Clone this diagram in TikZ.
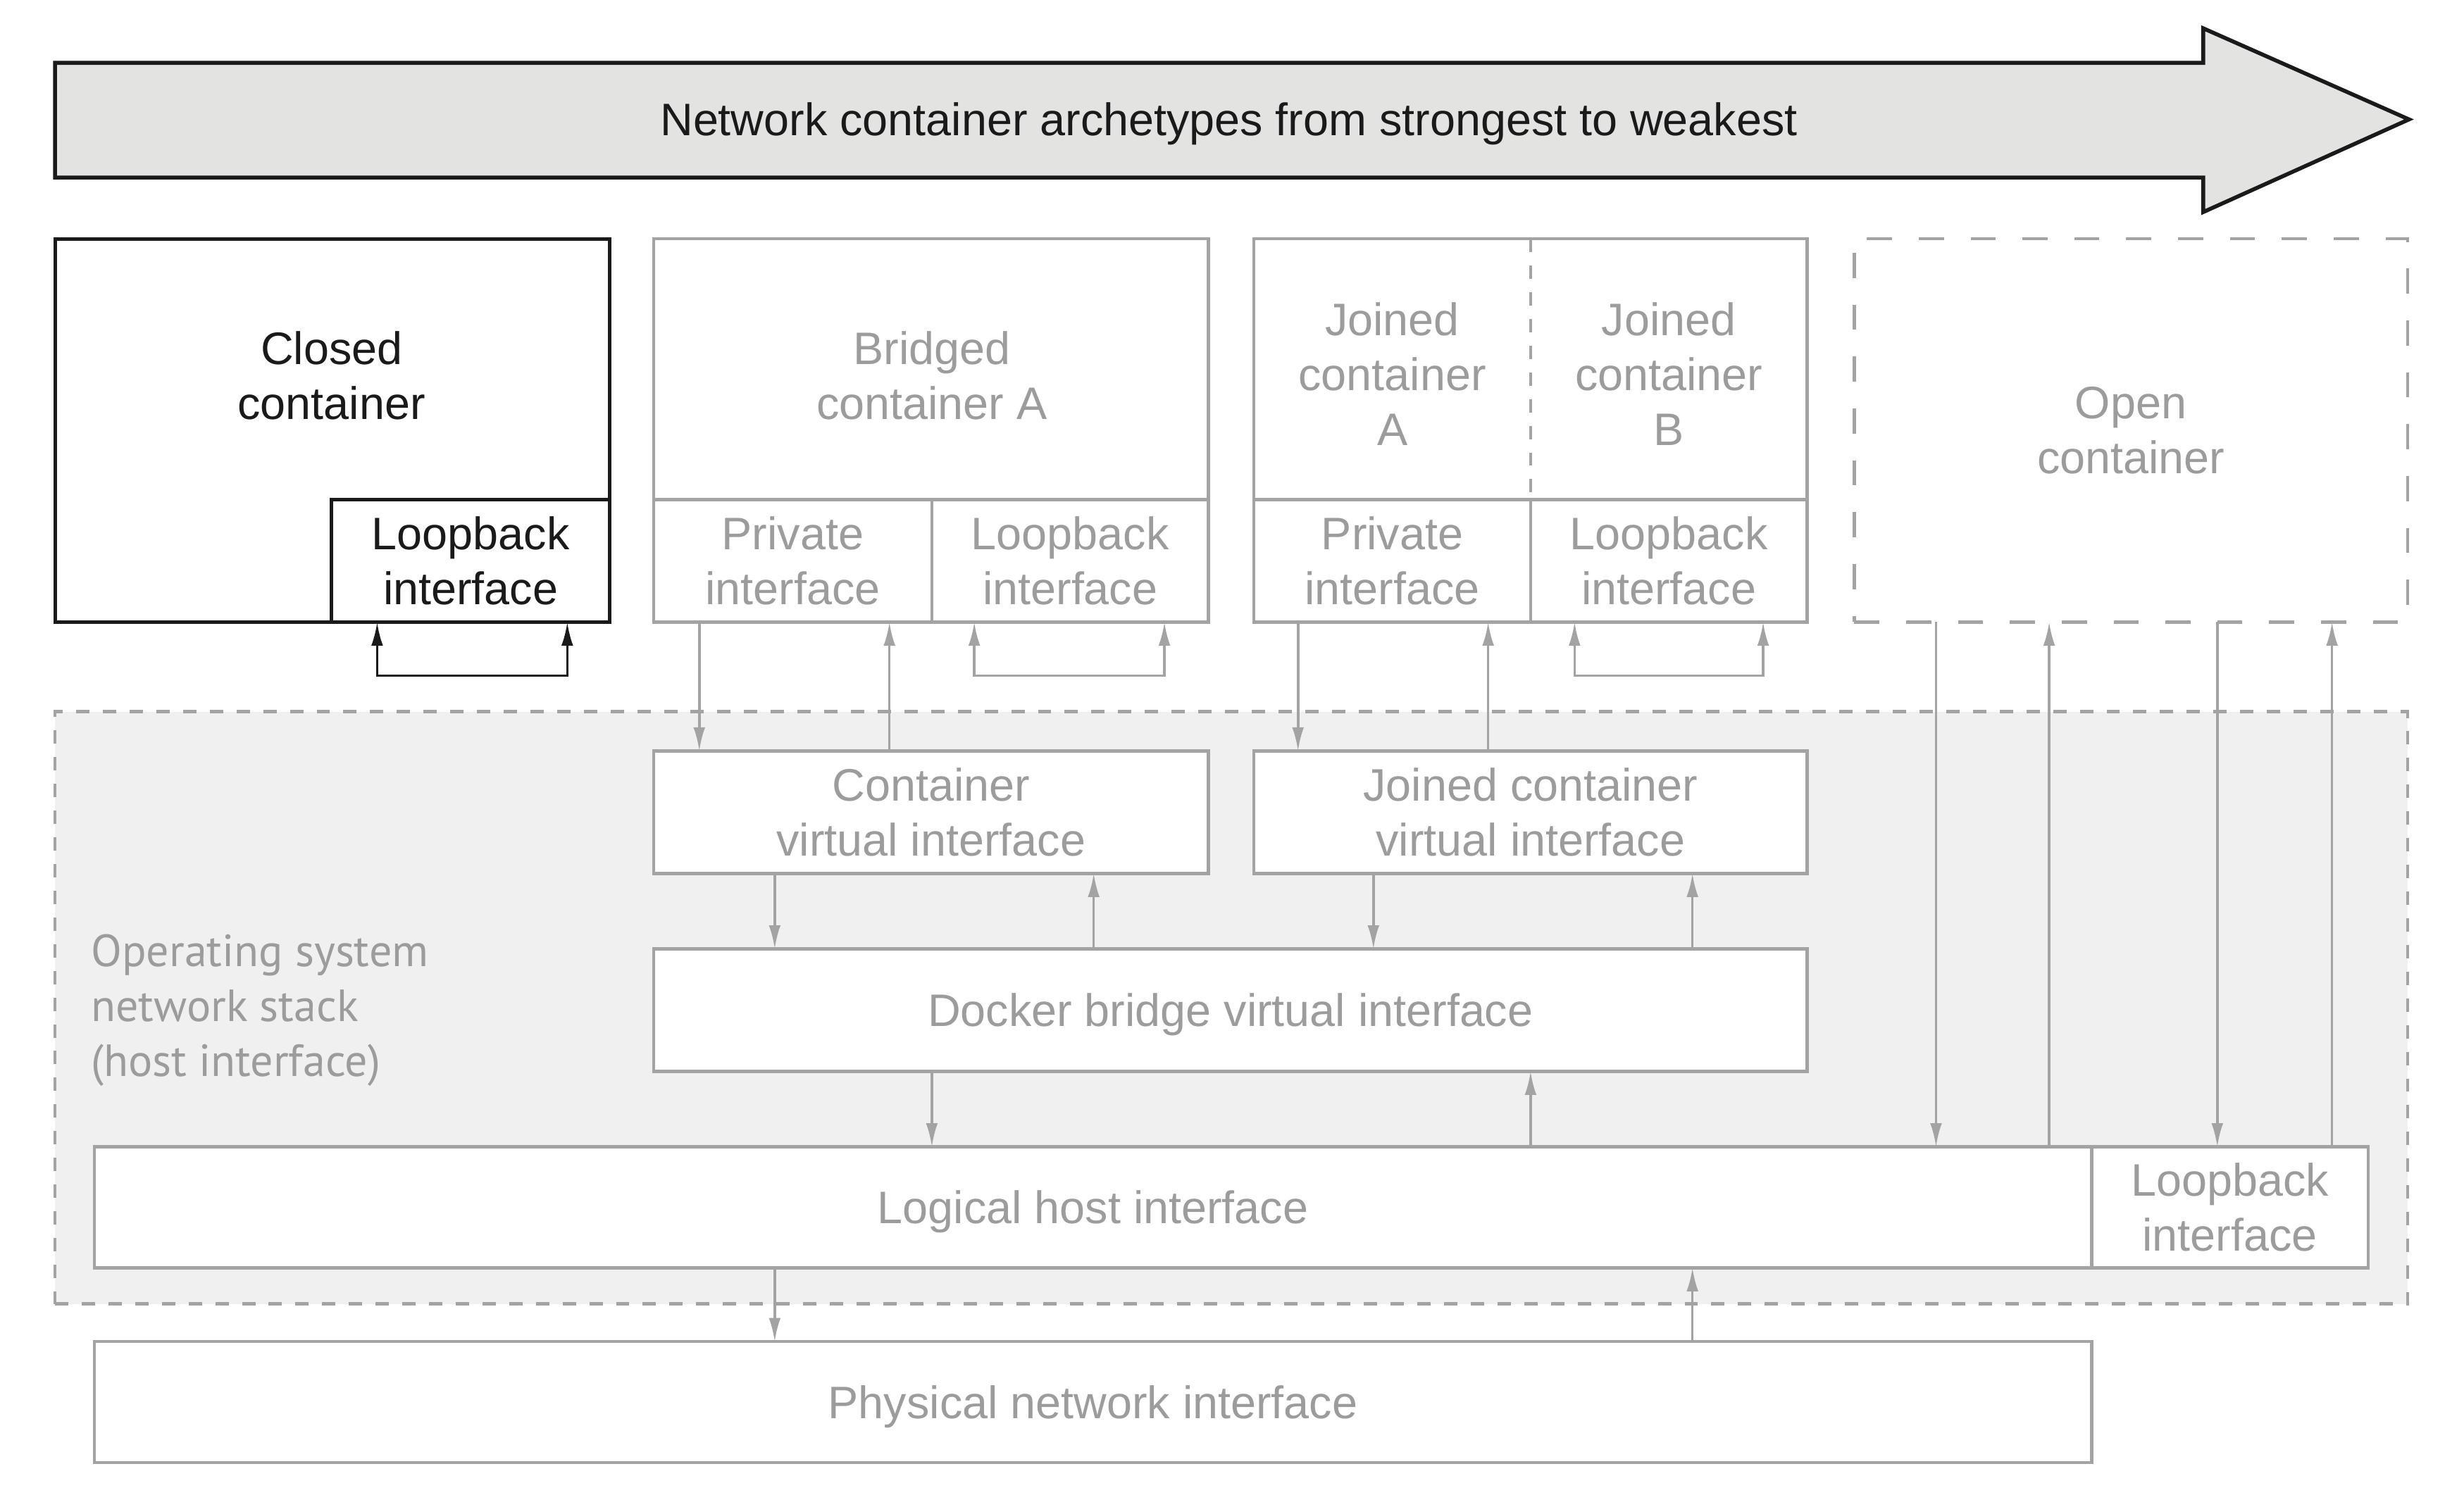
\documentclass[tikz,border=0pt]{standalone}
\usepackage{fontspec}
\setmainfont{Liberation Sans}
\newfontfamily\osfont{PT Sans}
\usetikzlibrary{arrows.meta}
\definecolor{lg}{HTML}{A3A3A3}
\definecolor{tg}{HTML}{9C9C9C}
\definecolor{arrfill}{HTML}{E3E3E2}
\definecolor{osfill}{HTML}{F0F0F0}
\definecolor{ink}{HTML}{1A1A1A}
\begin{document}
\begin{tikzpicture}[x=1pt,y=-1pt,
  every node/.style={font=\fontsize{29}{35}\selectfont, align=center, inner sep=0pt, outer sep=0pt},
  gbox/.style={draw=lg, line width=2pt, fill=white, anchor=north west, text=tg},
  bbox/.style={draw=ink, line width=2.2pt, fill=white, anchor=north west, text=ink},
  oneline/.style={text depth=0pt},
  gtext/.style={text=tg},
  arr/.style={draw=lg, line width=1.6pt, -{Latex[length=15pt,width=7.5pt]}},
  loop/.style={draw=lg, line width=1.6pt, {Latex[length=15pt,width=7.5pt]}-{Latex[length=15pt,width=7.5pt]}},
  bloop/.style={draw=ink, line width=1.6pt, {Latex[length=15pt,width=7.5pt]}-{Latex[length=15pt,width=7.5pt]}},
  bigdash/.style={dash pattern=on 16pt off 17pt},
  smalldash/.style={dash pattern=on 8.5pt off 8.5pt}
]
\useasboundingbox (0,0) rectangle (1568,956);

% title arrow
\draw[line width=2.5pt, draw=ink, fill=arrfill, line join=miter]
  (35,40) -- (1402,40) -- (1402,18) -- (1533,76) -- (1402,135) -- (1402,113) -- (35,113) -- cycle;
\node[text=ink, oneline] (title) at (782,76) {Network container archetypes from strongest to weakest};

% OS network stack region
\node[draw=lg, line width=2pt, smalldash, fill=osfill, anchor=north west,
      minimum width=1497, minimum height=377] (os) at (35,453) {};
\node[gtext, anchor=west, align=left, font=\osfont\fontsize{28.7}{35}\selectfont] (oslabel) at (58,643)
  {Operating system\\network stack\\(host interface)};

% closed container
\node[bbox, minimum width=353, minimum height=244] (closed) at (35,152) {};
\node[text=ink] (closedt) at (211,239) {Closed\\container};
\node[bbox, minimum width=177, minimum height=78] (closedlo) at (211,318) {Loopback\\interface};

% bridged container
\node[gbox, minimum width=353, minimum height=166] (bridged) at (416,152) {};
\node[gtext] (bridgedt) at (593,239) {Bridged\\container A};
\node[gbox, minimum width=177, minimum height=78] (bpriv) at (416,318) {Private\\interface};
\node[gbox, minimum width=176, minimum height=78] (blo) at (593,318) {Loopback\\interface};

% joined containers
\node[gbox, minimum width=352, minimum height=166] (jtop) at (798,152) {};
\node[gtext] (jA) at (886,238) {Joined\\container\\A};
\node[gtext] (jB) at (1062,238) {Joined\\container\\B};
\draw[lg, line width=2pt, smalldash] (jtop.north) -- (jtop.south);
\node[gbox, minimum width=176, minimum height=78] (jpriv) at (798,318) {Private\\interface};
\node[gbox, minimum width=176, minimum height=78] (jlo) at (974,318) {Loopback\\interface};

% open container
\node[draw=lg, line width=2pt, bigdash, anchor=north west, text=tg,
      minimum width=352, minimum height=244] (open) at (1180,152) {Open\\container};

% virtual interfaces
\node[gbox, minimum width=353, minimum height=78] (cvi) at (416,478) {Container\\virtual interface};
\node[gbox, minimum width=352, minimum height=78] (jcvi) at (798,478) {Joined container\\virtual interface};
\node[gbox, oneline, minimum width=734, minimum height=78] (dbr) at (416,604) {Docker bridge virtual interface};
\node[gbox, oneline, minimum width=1271, minimum height=77] (lhi) at (60,730) {Logical host interface};
\node[gbox, minimum width=176, minimum height=77] (hlo) at (1331,730) {Loopback\\interface};
\node[gbox, oneline, minimum width=1271, minimum height=77] (phy) at (60,854) {Physical network interface};

% x positions of vertical connectors
\coordinate (v1) at (240,0);  \coordinate (v2) at (361,0);
\coordinate (v3) at (445,0);  \coordinate (v4) at (566,0);
\coordinate (v5) at (620,0);  \coordinate (v6) at (741,0);
\coordinate (v7) at (826,0);  \coordinate (v8) at (947,0);
\coordinate (v9) at (1002,0); \coordinate (v10) at (1122,0);
\coordinate (v11) at (1232,0); \coordinate (v12) at (1304,0);
\coordinate (v13) at (1411,0); \coordinate (v14) at (1484,0);
\coordinate (v15) at (493,0); \coordinate (v16) at (696,0);
\coordinate (v17) at (874,0); \coordinate (v18) at (1077,0);
\coordinate (v19) at (593,0); \coordinate (v20) at (974,0);

% loopback loops
\draw[bloop] (closedlo.south -| v1) -- ++(0,34) -| (closedlo.south -| v2);
\draw[loop] (blo.south -| v5) -- ++(0,34) -| (blo.south -| v6);
\draw[loop] (jlo.south -| v9) -- ++(0,34) -| (jlo.south -| v10);

% container interfaces to virtual interfaces
\draw[arr] (bpriv.south -| v3) -- (cvi.north -| v3);
\draw[arr] (cvi.north -| v4) -- (bpriv.south -| v4);
\draw[arr] (jpriv.south -| v7) -- (jcvi.north -| v7);
\draw[arr] (jcvi.north -| v8) -- (jpriv.south -| v8);

% open container to host
\draw[arr] (open.south -| v11) -- (lhi.north -| v11);
\draw[arr] (lhi.north -| v12) -- (open.south -| v12);
\draw[arr] (open.south -| v13) -- (hlo.north -| v13);
\draw[arr] (hlo.north -| v14) -- (open.south -| v14);

% virtual interfaces to bridge
\draw[arr] (cvi.south -| v15) -- (dbr.north -| v15);
\draw[arr] (dbr.north -| v16) -- (cvi.south -| v16);
\draw[arr] (jcvi.south -| v17) -- (dbr.north -| v17);
\draw[arr] (dbr.north -| v18) -- (jcvi.south -| v18);

% bridge to logical host
\draw[arr] (dbr.south -| v19) -- (lhi.north -| v19);
\draw[arr] (lhi.north -| v20) -- (dbr.south -| v20);

% logical host to physical
\draw[arr] (lhi.south -| v15) -- (phy.north -| v15);
\draw[arr] (phy.north -| v18) -- (lhi.south -| v18);
\end{tikzpicture}
\end{document}
